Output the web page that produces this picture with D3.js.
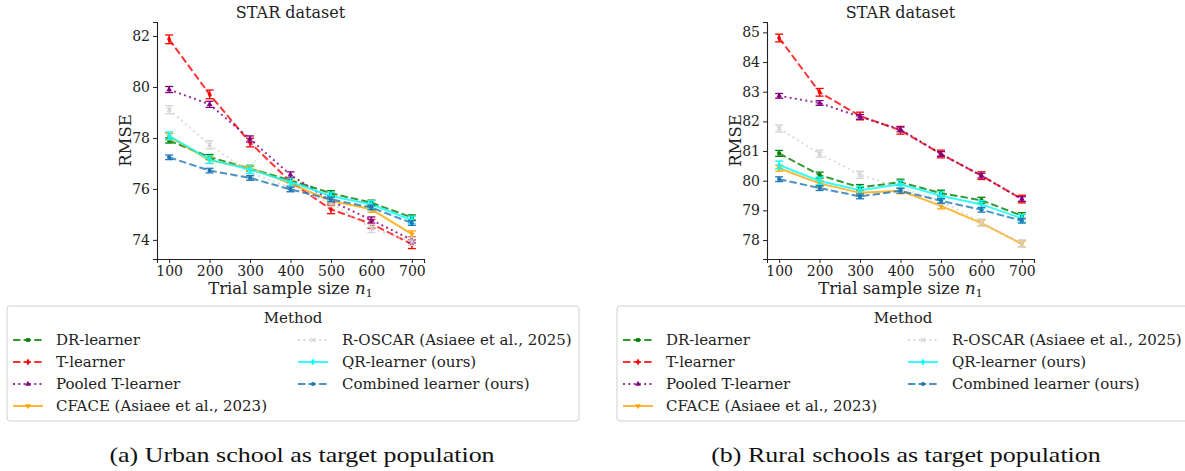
<!DOCTYPE html>
<html>
<head>
<meta charset="utf-8">
<script src="https://cdn.jsdelivr.net/npm/d3@7"></script>
<style>
  body { margin: 0; background: #fff; }
  svg { display: block; }
</style>
</head>
<body>
<script>
// trial sample sizes
const sampleSizes = [100, 200, 300, 400, 500, 600, 700];

const methodNames = [
    'DR-learner',
    'T-learner',
    'Pooled T-learner',
    'CFACE (Asiaee et al., 2023)',
    'R-OSCAR (Asiaee et al., 2025)',
    'QR-learner (ours)',
    'Combined learner (ours)'
];

// (a) urban school as target
const urbanDR = [77.9, 77.25, 76.8, 76.34, 75.83, 75.46, 74.88];
const urbanT = [81.87, 79.71, 77.82, 76.28, 75.2, 74.63, 73.83];
const urbanPooled = [79.9, 79.32, 77.96, 76.55, 75.53, 74.78, 74.0];
const urbanCFACE = [78.05, 77.12, 76.82, 76.21, 75.53, 75.2, 74.23];
const urbanROSCAR = [79.11, 77.73, 76.63, 76.05, 75.46, 74.45, 73.94];
const urbanQR = [78.08, 77.15, 76.76, 76.27, 75.72, 75.39, 74.78];
const urbanCombined = [77.24, 76.72, 76.43, 75.98, 75.59, 75.27, 74.66];
// error bar half widths per method
const urbanErr = [0.1, 0.17, 0.12, 0.12, 0.16, 0.15, 0.09];

// (b) rural schools as target
const ruralDR = [80.92, 80.19, 79.77, 79.95, 79.58, 79.34, 78.82];
const ruralT = [84.81, 82.98, 82.18, 81.7, 80.9, 80.17, 79.38];
const ruralPooled = [82.86, 82.62, 82.15, 81.73, 80.9, 80.17, 79.38];
const ruralCFACE = [80.42, 79.91, 79.59, 79.66, 79.15, 78.57, 77.87];
const ruralROSCAR = [81.76, 80.91, 80.2, 79.77, 79.32, 78.59, 77.89];
const ruralQR = [80.53, 79.99, 79.68, 79.88, 79.49, 79.2, 78.73];
const ruralCombined = [80.05, 79.75, 79.47, 79.66, 79.32, 79.02, 78.65];
const ruralErr = [0.1, 0.13, 0.08, 0.1, 0.12, 0.13, 0.08];

const urbanTicks = [74, 76, 78, 80, 82];
const ruralTicks = [78, 79, 80, 81, 82, 83, 84, 85];

const styles = [
    { color: '#008000', dash: '7.4,3.2', symbol: d3.symbolSquare, fill: true },
    { color: '#ff0000', dash: '7.4,3.2', symbol: d3.symbolDiamond, fill: true },
    { color: '#800080', dash: '2,3.3', symbol: d3.symbolTriangle, fill: true },
    { color: '#ffa500', dash: null, symbol: d3.symbolTriangle, fill: true, flip: true },
    { color: '#d3d3d3', dash: '2,3.3', symbol: d3.symbolTimes || d3.symbolCross, fill: false },
    { color: '#00ffff', dash: null, symbol: d3.symbolDiamond, fill: true },
    { color: '#1f77b4', dash: '7.4,3.2', symbol: d3.symbolCircle, fill: true }
];

const svg = d3.select('body').append('svg')
    .attr('width', 1185)
    .attr('height', 471)
    .style('font-family', "'DejaVu Serif', serif");

function drawPanel(opts) {
    const g = svg.append('g');
    const x = d3.scaleLinear().domain([70, 730]).range([opts.left, opts.right]);
    const y = d3.scaleLinear().domain(opts.yDomain).range([259, 22]);

    // axes
    const xAxis = g.append('g')
        .attr('transform', 'translate(0,259)')
        .call(d3.axisBottom(x).tickValues(sampleSizes).tickSizeOuter(0).tickSize(4).tickPadding(3));
    const yAxis = g.append('g')
        .attr('transform', `translate(${opts.left},0)`)
        .call(d3.axisLeft(y).tickValues(opts.ticks).tickSizeOuter(0).tickSize(4).tickPadding(3));
    [xAxis, yAxis].forEach((a) => {
        a.select('.domain').attr('stroke', '#222').attr('stroke-width', 1.1);
        a.selectAll('.tick line').attr('stroke', '#222');
        a.selectAll('.tick text')
            .attr('fill', '#222')
            .style('font-family', "'DejaVu Serif', serif")
            .style('font-size', '14px');
    });

    opts.series.forEach((vals, i) => {
        const st = styles[i];
        const pts = vals.map((v, j) => ({ n: sampleSizes[j], v: v }));
        const err = opts.err[i];
        const sg = g.append('g');

        sg.append('path')
            .datum(pts)
            .attr('fill', 'none')
            .attr('stroke', st.color)
            .attr('stroke-width', 2)
            .attr('stroke-dasharray', st.dash)
            .attr('opacity', 0.8)
            .attr('d', d3.line().x((d) => x(d.n)).y((d) => y(d.v)));

        // error bars with caps
        const eb = sg.selectAll('.eb').data(pts).enter().append('g').attr('stroke', st.color).attr('stroke-width', 1.3);
        eb.append('line')
            .attr('x1', (d) => x(d.n)).attr('x2', (d) => x(d.n))
            .attr('y1', (d) => y(d.v - err)).attr('y2', (d) => y(d.v + err));
        eb.append('line')
            .attr('x1', (d) => x(d.n) - 4).attr('x2', (d) => x(d.n) + 4)
            .attr('y1', (d) => y(d.v - err)).attr('y2', (d) => y(d.v - err));
        eb.append('line')
            .attr('x1', (d) => x(d.n) - 4).attr('x2', (d) => x(d.n) + 4)
            .attr('y1', (d) => y(d.v + err)).attr('y2', (d) => y(d.v + err));

        sg.selectAll('.mk').data(pts).enter().append('path')
            .attr('transform', (d) => `translate(${x(d.n)},${y(d.v)})${st.flip ? ' rotate(180)' : ''}`)
            .attr('d', d3.symbol().type(st.symbol).size(14))
            .attr('fill', st.fill ? st.color : 'none')
            .attr('stroke', st.fill ? 'none' : st.color)
            .attr('stroke-width', 1.2);
    });

    const cx = (opts.left + opts.right) / 2;
    g.append('text')
        .attr('x', cx).attr('y', 18)
        .attr('text-anchor', 'middle')
        .style('font-size', '16px')
        .attr('fill', '#222')
        .text('STAR dataset');

    const xl = g.append('text')
        .attr('x', cx).attr('y', 294)
        .attr('text-anchor', 'middle')
        .style('font-size', '16.5px')
        .attr('fill', '#222');
    xl.append('tspan').text('Trial sample size ');
    xl.append('tspan').style('font-style', 'italic').text('n');
    xl.append('tspan').attr('dy', 3).style('font-size', '11.5px').text('1');

    g.append('text')
        .attr('transform', `translate(${opts.left - 26},${(22 + 259) / 2}) rotate(-90)`)
        .attr('text-anchor', 'middle')
        .style('font-size', '16.5px')
        .attr('fill', '#222')
        .text('RMSE');

    // legend
    const lg = g.append('g').attr('transform', `translate(${opts.legendX},306)`);
    lg.append('rect')
        .attr('x', 0).attr('y', 0)
        .attr('width', 572).attr('height', 115)
        .attr('rx', 3)
        .attr('fill', '#fff')
        .attr('stroke', '#d0d0d0');
    lg.append('text')
        .attr('x', 286).attr('y', 17)
        .attr('text-anchor', 'middle')
        .style('font-size', '15px')
        .attr('fill', '#222')
        .text('Method');
    methodNames.forEach((name, i) => {
        const st = styles[i];
        const col = i < 4 ? 0 : 1;
        const row = i < 4 ? i : i - 4;
        const hx = col === 0 ? 6 : 291;
        const hy = 34 + row * 22;
        lg.append('line')
            .attr('x1', hx).attr('x2', hx + 30)
            .attr('y1', hy).attr('y2', hy)
            .attr('stroke', st.color)
            .attr('stroke-width', 2)
            .attr('opacity', 0.8)
            .attr('stroke-dasharray', st.dash);
        lg.append('path')
            .attr('transform', `translate(${hx + 15},${hy})${st.flip ? ' rotate(180)' : ''}`)
            .attr('d', d3.symbol().type(st.symbol).size(14))
            .attr('fill', st.fill ? st.color : 'none')
            .attr('stroke', st.fill ? 'none' : st.color)
            .attr('stroke-width', 1.2);
        lg.append('text')
            .attr('x', col === 0 ? 49 : 335)
            .attr('y', hy + 5)
            .style('font-size', '15px')
            .attr('fill', '#222')
            .text(name);
    });

    const cap = svg.append('text')
        .attr('x', opts.captionX).attr('y', 462)
        .attr('text-anchor', 'middle')
        .style('font-family', "'Liberation Serif', serif")
        .style('font-size', '22px')
        .attr('fill', '#111')
        .text(opts.caption);
    // computer-modern captions are wider than Liberation Serif
    const len = cap.node().getComputedTextLength();
    cap.attr('textLength', len * 1.18).attr('lengthAdjust', 'spacingAndGlyphs');
}

drawPanel({
    left: 157, right: 424,
    yDomain: [73.25, 82.55], ticks: urbanTicks,
    series: [urbanDR, urbanT, urbanPooled, urbanCFACE, urbanROSCAR, urbanQR, urbanCombined],
    err: urbanErr,
    legendX: 7,
    captionX: 302,
    caption: '(a) Urban school as target population'
});

drawPanel({
    left: 767, right: 1034,
    yDomain: [77.36, 85.35], ticks: ruralTicks,
    series: [ruralDR, ruralT, ruralPooled, ruralCFACE, ruralROSCAR, ruralQR, ruralCombined],
    err: ruralErr,
    legendX: 617,
    captionX: 906,
    caption: '(b) Rural schools as target population'
});
</script>
</body>
</html>
